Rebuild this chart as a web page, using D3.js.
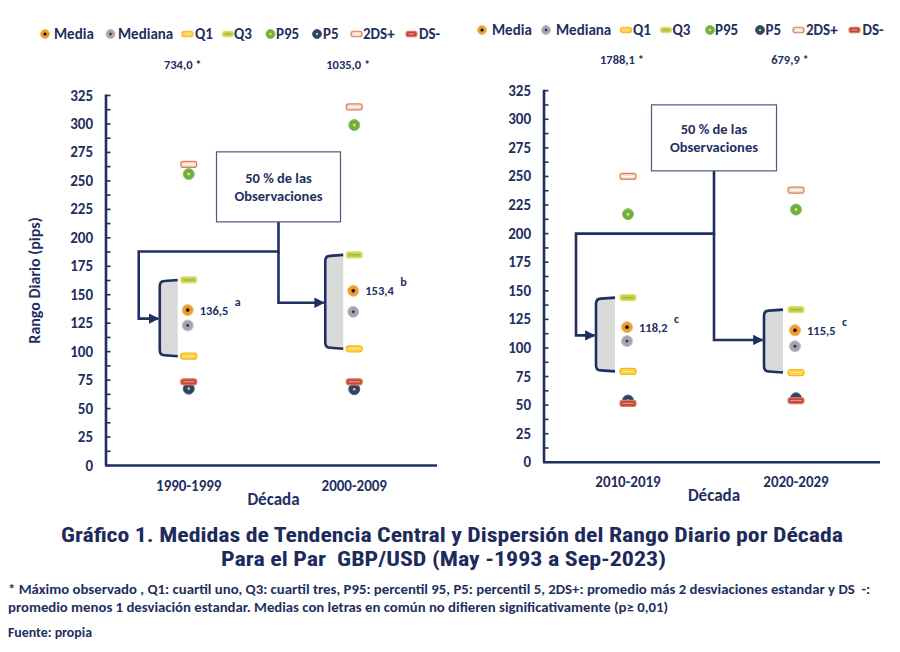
<!DOCTYPE html>
<html><head><meta charset="utf-8">
<script src="https://cdn.jsdelivr.net/npm/d3@7"></script>
<style>
html,body{margin:0;padding:0;background:#fff;}
svg{display:block;}
</style></head>
<body>
<svg id="c" width="900" height="652"></svg>
<script>
// ---- data ----
const decadesA = ["1990-1999", "2000-2009"];
const decadesB = ["2010-2019", "2020-2029"];
const media   = [136.5, 153.4, 118.2, 115.5];
const mediana = [123.0, 135.0, 106.0, 101.5];
const q1      = [96.0, 102.5, 79.5, 78.5];
const q3      = [163.0, 185.0, 144.0, 133.5];
const p95     = [256.0, 299.0, 217.0, 221.0];
const p5      = [67.5, 67.0, 54.0, 56.0];
const ds2plus = [264.5, 315.0, 250.0, 238.0];
const dsMinus = [73.5, 73.5, 51.5, 54.0];
const maxObs  = ["734,0 *", "1035,0 *", "1788,1 *", "679,9 *"];
const letters = ["a", "b", "c", "c"];
const mediaLabels = ["136,5", "153,4", "118,2", "115,5"];
const yTicks = [0, 25, 50, 75, 100, 125, 150, 175, 200, 225, 250, 275, 300, 325];
const legendNames = ["Media", "Mediana", "Q1", "Q3", "P95", "P5", "2DS+", "DS-"];

const NAVY = "#1f2f5f";
const FONT = "Carlito, Lato, 'Open Sans', sans-serif";
const FW = 700;
const svg = d3.select("#c");

// marker styles
const styles = {
  "Media":   {type: "circle", fill: "#ef9a2b", stroke: "#f6bf6c", dot: "#111", dr: 1.8},
  "Mediana": {type: "circle", fill: "#a3a4ad", stroke: "#c2c3ca", dot: "#1f2f5f", dr: 1.4},
  "Q1":      {type: "rect", fill: "#ffd24a", stroke: "#f4bb1f", line: "#ffe68a"},
  "Q3":      {type: "rect", fill: "#c6cf52", stroke: "#e0e26a", line: "#9fb43e"},
  "P95":     {type: "circle", fill: "#6fae45", stroke: "#8fc060", dot: "#e6e24a", dr: 1.5},
  "P5":      {type: "circle", fill: "#2f4366", stroke: "#4a5c7c", dot: "#d8cf72", dr: 1.3},
  "2DS+":    {type: "rect", fill: "#f7d9c4", stroke: "#d9825a", line: "#fff"},
  "DS-":     {type: "rect", fill: "#c1473a", stroke: "#e07a5c", line: "#e99882"}
};

function marker(g, name, x, y, big) {
  const s = styles[name];
  if (s.type === "circle") {
    const r = big ? 5.5 : 4.5;
    g.append("circle").attr("cx", x).attr("cy", y).attr("r", r)
      .attr("fill", s.fill).attr("stroke", s.stroke).attr("stroke-width", 1);
    g.append("circle").attr("cx", x).attr("cy", y).attr("r", big ? s.dr : s.dr * 0.9).attr("fill", s.dot);
  } else {
    const w = big ? 16 : 11, h = big ? 6 : 5.5;
    g.append("rect").attr("x", x - w / 2).attr("y", y - h / 2).attr("width", w).attr("height", h)
      .attr("rx", 2.5).attr("fill", s.fill).attr("stroke", s.stroke).attr("stroke-width", 1.2);
    g.append("line").attr("x1", x - w / 2 + 2.5).attr("x2", x + w / 2 - 2.5).attr("y1", y).attr("y2", y)
      .attr("stroke", s.line).attr("stroke-width", 1.2);
  }
}

// arrowhead
svg.append("defs").append("marker").attr("id", "arr").attr("viewBox", "0 0 10 10")
  .attr("refX", 9).attr("refY", 5).attr("markerWidth", 4).attr("markerHeight", 4)
  .attr("orient", "auto").attr("markerUnits", "strokeWidth")
  .append("path").attr("d", "M0,0 L10,5 L0,10 z").attr("fill", NAVY);

function panel(cfg) {
  const {cats, idx, x0, x1, yBottom, yTop, legendY, legendPos, maxY, showYTitle, box, conn} = cfg;
  const g = svg.append("g");
  const x = d3.scalePoint().domain(cats).range([x0, x1]).padding(0.5);
  const y = d3.scaleLinear().domain([0, 325]).range([yBottom, yTop]);

  // legend
  legendNames.forEach((n, i) => {
    const lg = g.append("g");
    marker(lg, n, legendPos[i][0], legendY, false);
    lg.append("text").attr("x", legendPos[i][1]).attr("y", legendY + 5)
      .attr("font-family", FONT).attr("font-weight", FW).attr("font-size", 15)
      .attr("fill", NAVY).text(n);
  });

  // max labels
  cats.forEach((c, j) => {
    g.append("text").attr("x", x(c) - 6).attr("y", maxY).attr("text-anchor", "middle")
      .attr("font-family", FONT).attr("font-weight", FW).attr("font-size", 12.5)
      .attr("fill", NAVY).text(maxObs[idx[j]]);
  });

  // y axis
  const minor = d3.range(0, 326, 12.5);
  g.append("g").selectAll("line").data(minor).join("line")
    .attr("x1", x0).attr("x2", x0 + 4.5).attr("y1", d => y(d)).attr("y2", d => y(d))
    .attr("stroke", NAVY).attr("stroke-width", 1.6);
  g.append("g").selectAll("text").data(yTicks).join("text")
    .attr("x", x0 - 13).attr("y", d => y(d) + 5).attr("text-anchor", "end")
    .attr("font-family", FONT).attr("font-weight", FW).attr("font-size", 15)
    .attr("fill", NAVY).text(d => d);
  g.append("line").attr("x1", x0).attr("x2", x0).attr("y1", y(325) - 1).attr("y2", y(0))
    .attr("stroke", NAVY).attr("stroke-width", 2.6);
  g.append("line").attr("x1", x0 - 1).attr("x2", x1).attr("y1", y(0)).attr("y2", y(0))
    .attr("stroke", NAVY).attr("stroke-width", 2.6);

  // category labels
  cats.forEach(c => {
    g.append("text").attr("x", x(c)).attr("y", yBottom + 25).attr("text-anchor", "middle")
      .attr("font-family", FONT).attr("font-weight", FW).attr("font-size", 15)
      .attr("fill", NAVY).text(c);
  });
  g.append("text").attr("x", (x0 + x1) / 2 + 2).attr("y", yBottom + 39).attr("text-anchor", "middle")
    .attr("font-family", FONT).attr("font-weight", FW).attr("font-size", 17)
    .attr("fill", NAVY).text("Década");
  if (showYTitle) {
    g.append("text").attr("transform", `translate(40,${(y(0) + y(325)) / 2}) rotate(-90)`)
      .attr("text-anchor", "middle").attr("font-family", FONT).attr("font-weight", FW)
      .attr("font-size", 16).attr("fill", NAVY).text("Rango Diario (pips)");
  }

  // brackets
  cats.forEach((c, j) => {
    const k = idx[j];
    const bx0 = x(c) + cfg.br[0], bx1 = x(c) + cfg.br[1];
    const yt = y(q3[k]), yb = y(q1[k]);
    g.append("rect").attr("x", bx0).attr("y", yt).attr("width", bx1 - bx0).attr("height", yb - yt)
      .attr("fill", "#d9d9d9");
    g.append("path")
      .attr("d", `M${bx1},${yt} L${bx0 + 5},${yt + 1} Q${bx0},${yt + 1.3} ${bx0},${yt + 6} L${bx0},${yb - 6} Q${bx0},${yb - 1.3} ${bx0 + 5},${yb - 1} L${bx1},${yb}`)
      .attr("fill", "none").attr("stroke", NAVY).attr("stroke-width", 2.6);
  });

  // connectors
  const bcx = (x(cats[0]) + x(cats[1])) / 2 + box.dx;
  const c0 = x(cats[0]), c1 = x(cats[1]);
  const path = (pts, arrow) => g.append("path").attr("d", d3.line()(pts)).attr("fill", "none")
    .attr("stroke", NAVY).attr("stroke-width", 2.6).attr("marker-end", arrow ? "url(#arr)" : null);
  path([[bcx, y(box.bottom)], [bcx, y(conn.hy)], [c0 + conn.leftX, y(conn.hy)], [c0 + conn.leftX, y(conn.a1)], [c0 + cfg.br[0] - 1.5, y(conn.a1)]], true);
  path([[bcx, y(conn.hy)], [bcx, y(conn.a2)], [c1 + cfg.br[0] - 1.5, y(conn.a2)]], true);

  // box
  g.append("rect").attr("x", bcx - box.w / 2).attr("y", y(box.top)).attr("width", box.w)
    .attr("height", y(box.bottom) - y(box.top)).attr("fill", "#fff").attr("stroke", "#4a5a7a").attr("stroke-width", 1.2);
  const mid = (y(box.top) + y(box.bottom)) / 2;
  g.append("text").attr("x", bcx).attr("y", mid - 4).attr("text-anchor", "middle")
    .attr("font-family", FONT).attr("font-weight", FW).attr("font-size", 14.5).attr("fill", NAVY).text("50 % de las");
  g.append("text").attr("x", bcx).attr("y", mid + 14).attr("text-anchor", "middle")
    .attr("font-family", FONT).attr("font-weight", FW).attr("font-size", 14.5).attr("fill", NAVY).text("Observaciones");

  // markers
  cats.forEach((c, j) => {
    const k = idx[j], cx = x(c);
    marker(g, "2DS+", cx, y(ds2plus[k]), true);
    marker(g, "P95", cx, y(p95[k]), true);
    marker(g, "Q3", cx, y(q3[k]), true);
    marker(g, "Media", cx - 1, y(media[k]), true);
    marker(g, "Mediana", cx - 1, y(mediana[k]), true);
    marker(g, "Q1", cx, y(q1[k]), true);
    marker(g, "P5", cx, y(p5[k]), true);
    marker(g, "DS-", cx, y(dsMinus[k]), true);
    g.append("text").attr("x", cx + 11).attr("y", y(media[k]) + 4.5)
      .attr("font-family", FONT).attr("font-weight", FW).attr("font-size", 12.5)
      .attr("fill", NAVY).text(mediaLabels[k]);
    g.append("text").attr("x", cx + 46).attr("y", y(media[k]) - 4.5)
      .attr("font-family", FONT).attr("font-weight", FW).attr("font-size", 12)
      .attr("fill", NAVY).text(letters[k]);
  });
}

panel({
  cats: decadesA, idx: [0, 1], x0: 106, x1: 437, yBottom: 465.5, yTop: 95.5,
  legendY: 34, maxY: 69,
  legendPos: [[45, 54], [110.5, 118], [187.5, 195], [228, 234], [270.5, 276], [317, 323], [356.5, 363], [411.5, 419]],
  showYTitle: true, br: [-29, -11],
  box: {dx: 7, w: 124, top: 275.5, bottom: 214},
  conn: {hy: 188, leftX: -50, a1: 129, a2: 143}
});
panel({
  cats: decadesB, idx: [2, 3], x0: 544, x1: 880, yBottom: 462.3, yTop: 90.7,
  legendY: 30, maxY: 64,
  legendPos: [[482, 492], [546, 556], [626, 633], [666, 672.5], [710, 715], [760, 765.5], [798.5, 806], [854.5, 862.5]],
  showYTitle: false, br: [-32, -13],
  box: {dx: 2, w: 125, top: 312.6, bottom: 254.9},
  conn: {hy: 200, leftX: -52, a1: 111, a2: 107}
});

// title and notes
const TFONT = "'Liberation Sans Narrow', 'Roboto Condensed', 'DejaVu Sans Condensed', 'Liberation Sans', sans-serif";
svg.append("text").attr("x", 61).attr("y", 542).attr("textLength", 782).attr("lengthAdjust", "spacingAndGlyphs")
  .attr("font-family", TFONT).attr("font-weight", 700).attr("font-size", 19.5).attr("fill", "#1c2a5c")
  .text("Gráfico 1. Medidas de Tendencia Central y Dispersión del Rango Diario por Década");
svg.append("text").attr("x", 221).attr("y", 566).attr("textLength", 445).attr("lengthAdjust", "spacingAndGlyphs")
  .style("white-space", "pre")
  .attr("font-family", TFONT).attr("font-weight", 700).attr("font-size", 19.5).attr("fill", "#1c2a5c")
  .text("Para el Par  GBP/USD (May -1993 a Sep-2023)");
const NFONT = "Carlito, Lato, 'Open Sans', sans-serif";
svg.append("text").attr("x", 8).attr("y", 594).attr("textLength", 862).attr("lengthAdjust", "spacingAndGlyphs")
  .style("white-space", "pre")
  .attr("font-family", NFONT).attr("font-weight", 700).attr("font-size", 13).attr("fill", NAVY)
  .text("* Máximo observado , Q1: cuartil uno, Q3: cuartil tres, P95: percentil 95, P5: percentil 5, 2DS+: promedio más 2 desviaciones estandar y DS  -:");
svg.append("text").attr("x", 8).attr("y", 612).attr("textLength", 660).attr("lengthAdjust", "spacingAndGlyphs")
  .attr("font-family", NFONT).attr("font-weight", 700).attr("font-size", 13).attr("fill", NAVY)
  .text("promedio menos 1 desviación estandar. Medias con letras en común no difieren significativamente (p≥ 0,01)");
svg.append("text").attr("x", 8).attr("y", 637).attr("textLength", 84).attr("lengthAdjust", "spacingAndGlyphs")
  .attr("font-family", NFONT).attr("font-weight", 700).attr("font-size", 13).attr("fill", NAVY)
  .text("Fuente: propia");
</script>
</body></html>
